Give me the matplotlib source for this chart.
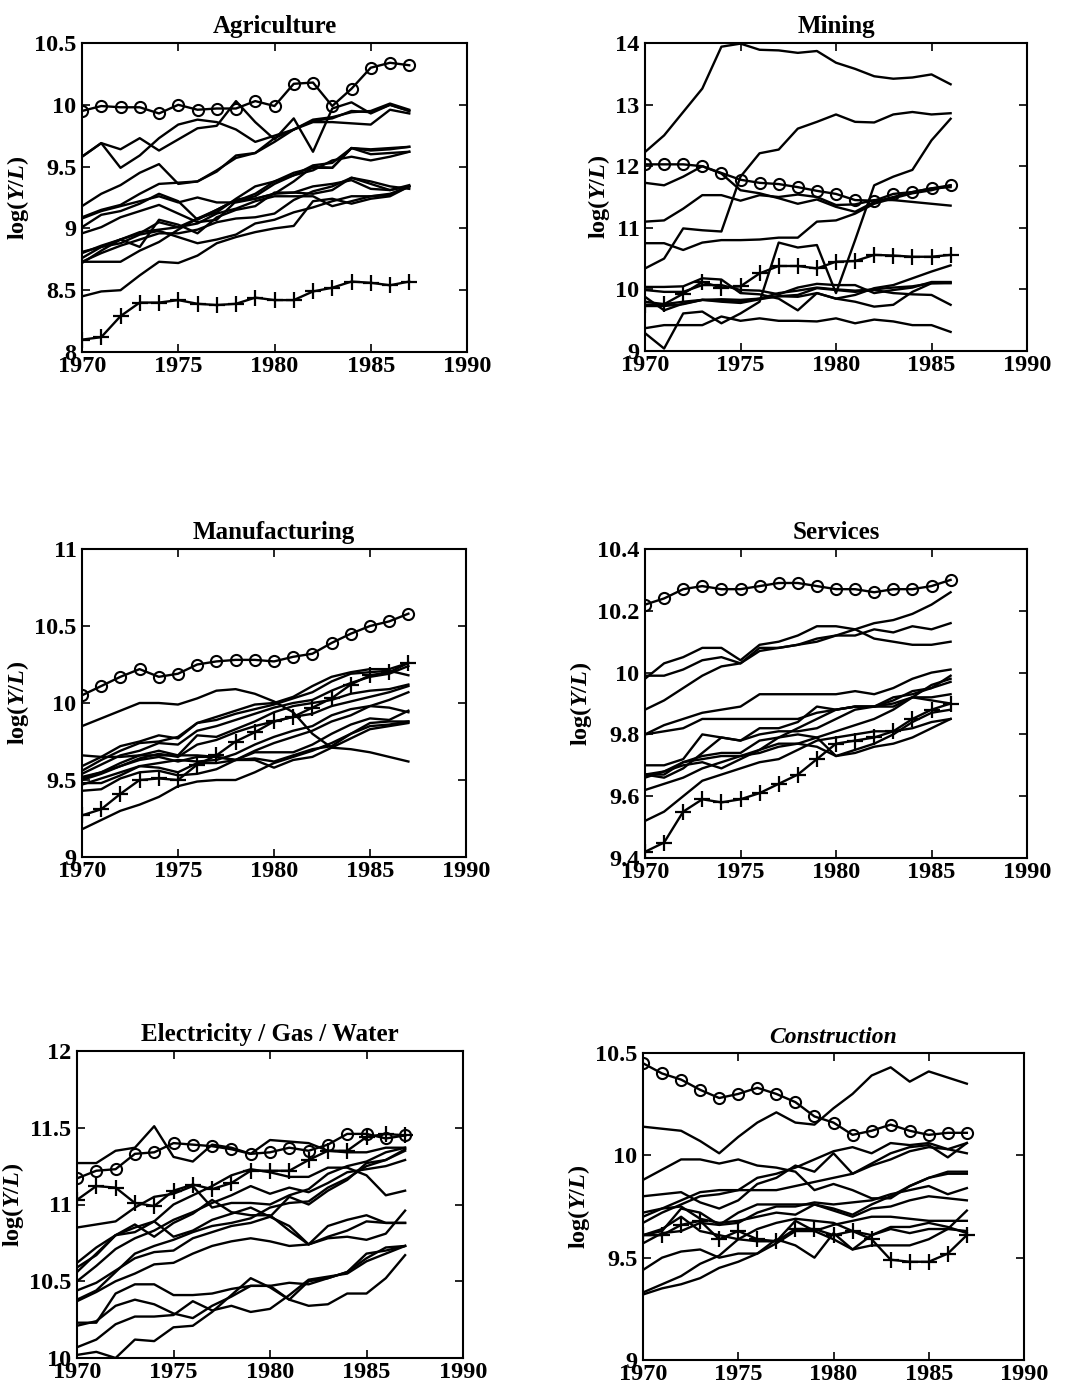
import matplotlib
matplotlib.use("Agg")
import matplotlib.pyplot as plt
from matplotlib.ticker import FormatStrFormatter, MultipleLocator

plt.rcParams['font.family'] = ['Liberation Serif', 'DejaVu Serif']
plt.rcParams['mathtext.fontset'] = 'custom'
plt.rcParams['mathtext.rm'] = 'Liberation Serif:bold'
plt.rcParams['mathtext.it'] = 'Liberation Serif:italic:bold'

# ---------------- data ----------------
years_87 = list(range(1970, 1988))
years_86 = list(range(1970, 1987))

# Agriculture
agri_o = [9.95, 9.99, 9.98, 9.98, 9.93, 10.0, 9.96, 9.97, 9.97, 10.03, 9.99, 10.17, 10.18, 9.99, 10.13, 10.30, 10.34, 10.32]
agri_plus = [8.10, 8.12, 8.29, 8.40, 8.40, 8.42, 8.39, 8.38, 8.39, 8.44, 8.42, 8.42, 8.49, 8.52, 8.57, 8.56, 8.54, 8.57]
agri_lines = [
    [9.58, 9.69, 9.49, 9.59, 9.73, 9.84, 9.88, 9.86, 9.80, 9.70, 9.75, 9.80, 9.86, 9.86, 9.85, 9.84, 9.96, 9.93],
    [9.58, 9.69, 9.64, 9.73, 9.63, 9.72, 9.81, 9.83, 10.03, 9.86, 9.72, 9.89, 9.62, 9.97, 10.02, 9.93, 10.00, 9.95],
    [9.18, 9.28, 9.35, 9.45, 9.52, 9.36, 9.38, 9.46, 9.59, 9.61, 9.70, 9.80, 9.87, 9.89, 9.95, 9.94, 10.00, 9.95],
    [9.09, 9.15, 9.19, 9.28, 9.36, 9.37, 9.38, 9.47, 9.57, 9.61, 9.73, 9.80, 9.88, 9.90, 9.94, 9.95, 10.01, 9.96],
    [9.08, 9.14, 9.18, 9.22, 9.26, 9.21, 9.25, 9.21, 9.21, 9.24, 9.28, 9.38, 9.50, 9.49, 9.65, 9.63, 9.64, 9.66],
    [9.01, 9.11, 9.14, 9.20, 9.28, 9.22, 9.07, 9.15, 9.23, 9.26, 9.36, 9.43, 9.51, 9.53, 9.65, 9.64, 9.65, 9.66],
    [8.96, 9.01, 9.09, 9.14, 9.19, 9.12, 9.05, 9.07, 9.22, 9.28, 9.38, 9.43, 9.47, 9.55, 9.58, 9.55, 9.58, 9.62],
    [8.80, 8.86, 8.91, 8.97, 8.99, 9.01, 9.08, 9.13, 9.24, 9.34, 9.38, 9.45, 9.49, 9.49, 9.65, 9.60, 9.61, 9.62],
    [8.76, 8.85, 8.91, 8.85, 9.07, 9.03, 8.96, 9.09, 9.15, 9.18, 9.29, 9.29, 9.28, 9.31, 9.41, 9.36, 9.31, 9.34],
    [8.72, 8.82, 8.91, 8.96, 9.05, 9.01, 9.04, 9.12, 9.16, 9.22, 9.26, 9.26, 9.26, 9.18, 9.22, 9.26, 9.28, 9.34],
    [8.73, 8.80, 8.86, 8.91, 8.96, 8.96, 8.99, 9.05, 9.08, 9.09, 9.12, 9.23, 9.30, 9.34, 9.41, 9.38, 9.34, 9.32],
    [8.81, 8.85, 8.88, 8.95, 8.98, 8.93, 8.88, 8.91, 8.95, 9.04, 9.07, 9.13, 9.17, 9.22, 9.26, 9.26, 9.27, 9.34],
    [8.73, 8.73, 8.73, 8.82, 8.89, 8.99, 9.08, 9.15, 9.23, 9.24, 9.28, 9.29, 9.34, 9.36, 9.39, 9.32, 9.31, 9.35],
    [8.45, 8.49, 8.50, 8.62, 8.73, 8.72, 8.78, 8.88, 8.93, 8.97, 9.00, 9.02, 9.22, 9.24, 9.20, 9.24, 9.26, 9.34],
]

# Mining
mining_o = [12.03, 12.03, 12.03, 12.00, 11.89, 11.78, 11.73, 11.71, 11.66, 11.60, 11.55, 11.45, 11.44, 11.55, 11.58, 11.64, 11.69]
mining_plus = [9.75, 9.76, 9.93, 10.12, 10.03, 10.05, 10.26, 10.38, 10.38, 10.34, 10.45, 10.46, 10.56, 10.55, 10.53, 10.53, 10.56]
mining_lines = [
    [12.23, 12.50, 12.88, 13.26, 13.94, 13.99, 13.89, 13.88, 13.84, 13.87, 13.68, 13.58, 13.46, 13.42, 13.44, 13.49, 13.33],
    [10.34, 10.50, 10.99, 10.96, 10.94, 11.83, 12.21, 12.27, 12.61, 12.72, 12.84, 12.72, 12.71, 12.84, 12.88, 12.84, 12.86],
    [9.29, 9.04, 9.61, 9.64, 9.45, 9.61, 9.80, 10.76, 10.68, 10.72, 9.94, 10.80, 11.69, 11.83, 11.94, 12.42, 12.77],
    [9.37, 9.42, 9.42, 9.42, 9.56, 9.49, 9.53, 9.49, 9.49, 9.48, 9.53, 9.45, 9.51, 9.48, 9.42, 9.42, 9.31],
    [11.73, 11.69, 11.83, 12.00, 11.88, 11.61, 11.56, 11.48, 11.39, 11.46, 11.34, 11.26, 11.42, 11.50, 11.58, 11.64, 11.66],
    [11.10, 11.12, 11.31, 11.53, 11.53, 11.44, 11.53, 11.50, 11.54, 11.50, 11.37, 11.38, 11.45, 11.45, 11.42, 11.39, 11.36],
    [10.75, 10.75, 10.64, 10.76, 10.80, 10.80, 10.81, 10.84, 10.84, 11.10, 11.12, 11.23, 11.39, 11.48, 11.56, 11.61, 11.69],
    [10.04, 10.04, 10.05, 10.18, 10.16, 9.94, 9.92, 9.85, 9.66, 9.94, 9.85, 9.91, 10.02, 10.07, 10.18, 10.29, 10.39],
    [9.99, 9.96, 9.96, 10.07, 10.07, 9.99, 9.98, 9.92, 10.03, 10.09, 10.07, 10.07, 9.94, 9.99, 10.03, 10.12, 10.12],
    [9.88, 9.66, 9.77, 9.83, 9.82, 9.80, 9.85, 9.89, 9.91, 10.02, 9.99, 9.96, 9.99, 9.94, 9.92, 9.91, 9.75],
    [9.80, 9.76, 9.80, 9.83, 9.80, 9.78, 9.84, 9.89, 9.88, 9.94, 9.85, 9.80, 9.72, 9.75, 9.96, 10.10, 10.10],
    [9.73, 9.73, 9.76, 9.83, 9.84, 9.83, 9.85, 9.94, 9.98, 10.03, 10.00, 9.98, 10.00, 10.03, 10.05, 10.10, 10.11],
]

# Manufacturing
manu_o = [10.05, 10.11, 10.17, 10.22, 10.17, 10.19, 10.25, 10.27, 10.28, 10.28, 10.27, 10.30, 10.32, 10.39, 10.45, 10.50, 10.53, 10.58]
manu_plus = [9.27, 9.31, 9.41, 9.50, 9.51, 9.50, 9.60, 9.66, 9.75, 9.81, 9.88, 9.91, 9.97, 10.03, 10.12, 10.18, 10.20, 10.26]
manu_lines = [
    [9.85, 9.90, 9.95, 10.00, 10.00, 9.99, 10.03, 10.08, 10.09, 10.06, 10.01, 9.94, 9.80, 9.71, 9.70, 9.68, 9.65, 9.62],
    [9.18, 9.24, 9.30, 9.34, 9.39, 9.46, 9.49, 9.50, 9.50, 9.55, 9.61, 9.65, 9.69, 9.74, 9.80, 9.87, 9.88, 9.88],
    [9.66, 9.65, 9.65, 9.66, 9.66, 9.66, 9.66, 9.65, 9.63, 9.63, 9.58, 9.63, 9.65, 9.71, 9.77, 9.83, 9.85, 9.87],
    [9.48, 9.48, 9.53, 9.59, 9.58, 9.55, 9.61, 9.61, 9.63, 9.69, 9.74, 9.78, 9.82, 9.88, 9.92, 9.98, 10.02, 10.07],
    [9.43, 9.44, 9.51, 9.55, 9.56, 9.53, 9.54, 9.57, 9.63, 9.68, 9.68, 9.68, 9.73, 9.80, 9.86, 9.90, 9.89, 9.95],
    [9.52, 9.55, 9.59, 9.63, 9.65, 9.62, 9.65, 9.65, 9.63, 9.64, 9.62, 9.66, 9.70, 9.72, 9.80, 9.85, 9.86, 9.88],
    [9.59, 9.65, 9.72, 9.75, 9.79, 9.77, 9.87, 9.91, 9.95, 9.99, 10.00, 10.04, 10.11, 10.17, 10.20, 10.22, 10.22, 10.26],
    [9.56, 9.63, 9.69, 9.74, 9.75, 9.78, 9.87, 9.89, 9.93, 9.96, 9.99, 10.03, 10.07, 10.14, 10.19, 10.20, 10.21, 10.18],
    [9.54, 9.60, 9.66, 9.69, 9.74, 9.73, 9.82, 9.85, 9.89, 9.93, 9.97, 10.00, 10.02, 10.08, 10.13, 10.17, 10.19, 10.24],
    [9.51, 9.55, 9.61, 9.66, 9.69, 9.66, 9.79, 9.78, 9.83, 9.88, 9.94, 9.98, 10.00, 10.02, 10.06, 10.08, 10.09, 10.12],
    [9.50, 9.54, 9.59, 9.64, 9.67, 9.65, 9.73, 9.76, 9.81, 9.85, 9.88, 9.91, 9.93, 9.98, 10.01, 10.04, 10.07, 10.11],
    [9.47, 9.51, 9.55, 9.59, 9.61, 9.63, 9.62, 9.63, 9.67, 9.73, 9.78, 9.82, 9.85, 9.92, 9.96, 9.98, 9.97, 9.94],
]

# Services
serv_o = [10.22, 10.24, 10.27, 10.28, 10.27, 10.27, 10.28, 10.29, 10.29, 10.28, 10.27, 10.27, 10.26, 10.27, 10.27, 10.28, 10.30]
serv_plus = [9.42, 9.45, 9.55, 9.59, 9.58, 9.59, 9.61, 9.64, 9.67, 9.72, 9.77, 9.78, 9.79, 9.81, 9.85, 9.88, 9.90]
serv_lines = [
    [9.98, 10.03, 10.05, 10.08, 10.08, 10.04, 10.09, 10.10, 10.12, 10.15, 10.15, 10.14, 10.11, 10.10, 10.09, 10.09, 10.10],
    [9.99, 9.99, 10.01, 10.04, 10.05, 10.03, 10.08, 10.08, 10.09, 10.11, 10.12, 10.12, 10.14, 10.13, 10.15, 10.14, 10.16],
    [9.88, 9.91, 9.95, 9.99, 10.02, 10.03, 10.07, 10.08, 10.09, 10.10, 10.12, 10.14, 10.16, 10.17, 10.19, 10.22, 10.26],
    [9.80, 9.83, 9.85, 9.87, 9.88, 9.89, 9.93, 9.93, 9.93, 9.93, 9.93, 9.94, 9.93, 9.95, 9.98, 10.00, 10.01],
    [9.80, 9.81, 9.82, 9.85, 9.85, 9.85, 9.85, 9.85, 9.85, 9.87, 9.88, 9.89, 9.89, 9.90, 9.92, 9.92, 9.93],
    [9.70, 9.70, 9.72, 9.80, 9.79, 9.78, 9.82, 9.82, 9.84, 9.89, 9.88, 9.89, 9.89, 9.89, 9.92, 9.91, 9.90],
    [9.67, 9.66, 9.69, 9.74, 9.79, 9.78, 9.80, 9.81, 9.81, 9.82, 9.85, 9.88, 9.89, 9.91, 9.94, 9.95, 9.99],
    [9.67, 9.67, 9.71, 9.72, 9.73, 9.73, 9.75, 9.77, 9.77, 9.76, 9.73, 9.75, 9.77, 9.80, 9.84, 9.87, 9.88],
    [9.67, 9.68, 9.70, 9.71, 9.69, 9.72, 9.75, 9.79, 9.82, 9.85, 9.88, 9.89, 9.89, 9.92, 9.93, 9.95, 9.97],
    [9.62, 9.64, 9.66, 9.69, 9.71, 9.73, 9.74, 9.76, 9.77, 9.79, 9.81, 9.83, 9.85, 9.88, 9.92, 9.96, 9.98],
    [9.52, 9.55, 9.60, 9.65, 9.67, 9.69, 9.71, 9.72, 9.75, 9.78, 9.79, 9.80, 9.81, 9.81, 9.82, 9.84, 9.85],
    [9.66, 9.68, 9.71, 9.73, 9.74, 9.74, 9.78, 9.79, 9.80, 9.79, 9.73, 9.74, 9.76, 9.77, 9.79, 9.82, 9.85],
]

# Electricity / Gas / Water
elec_o = [11.17, 11.22, 11.23, 11.33, 11.34, 11.40, 11.39, 11.38, 11.36, 11.33, 11.34, 11.37, 11.35, 11.39, 11.46, 11.46, 11.43, 11.45]
elec_plus = [11.03, 11.12, 11.11, 11.01, 10.99, 11.09, 11.13, 11.10, 11.14, 11.22, 11.22, 11.22, 11.29, 11.35, 11.35, 11.44, 11.46, 11.45]
elec_lines = [
    [11.27, 11.27, 11.35, 11.37, 11.51, 11.31, 11.28, 11.39, 11.37, 11.33, 11.42, 11.41, 11.40, 11.35, 11.34, 11.34, 11.37, 11.37],
    [10.85, 10.87, 10.89, 10.98, 11.05, 11.07, 11.12, 10.98, 11.01, 11.01, 11.00, 11.06, 11.10, 11.20, 11.25, 11.28, 11.34, 11.37],
    [10.62, 10.72, 10.80, 10.85, 10.89, 11.00, 11.06, 11.12, 11.19, 11.23, 11.21, 11.18, 11.18, 11.24, 11.24, 11.19, 11.06, 11.09],
    [10.59, 10.67, 10.80, 10.82, 10.89, 10.79, 10.83, 10.90, 10.94, 10.98, 10.92, 11.05, 11.00, 11.09, 11.16, 11.27, 11.29, 11.35],
    [10.56, 10.68, 10.80, 10.87, 10.79, 10.88, 10.94, 11.03, 10.95, 10.93, 10.93, 10.83, 10.74, 10.79, 10.83, 10.89, 10.88, 10.88],
    [10.50, 10.60, 10.71, 10.78, 10.83, 10.90, 10.95, 11.01, 11.06, 11.12, 11.07, 11.11, 11.08, 11.14, 11.21, 11.23, 11.25, 11.29],
    [10.38, 10.44, 10.56, 10.68, 10.73, 10.77, 10.82, 10.86, 10.88, 10.91, 10.98, 11.01, 11.02, 11.11, 11.17, 11.25, 11.29, 11.36],
    [10.44, 10.49, 10.57, 10.65, 10.69, 10.70, 10.78, 10.82, 10.86, 10.88, 10.92, 10.86, 10.74, 10.86, 10.90, 10.93, 10.88, 10.88],
    [10.37, 10.43, 10.50, 10.55, 10.61, 10.62, 10.68, 10.73, 10.76, 10.78, 10.76, 10.73, 10.74, 10.78, 10.79, 10.77, 10.81, 10.96],
    [10.23, 10.23, 10.42, 10.48, 10.48, 10.41, 10.41, 10.42, 10.45, 10.47, 10.47, 10.49, 10.48, 10.52, 10.56, 10.65, 10.72, 10.73],
    [10.21, 10.24, 10.34, 10.38, 10.35, 10.29, 10.26, 10.34, 10.40, 10.47, 10.47, 10.38, 10.34, 10.35, 10.42, 10.42, 10.52, 10.67],
    [10.07, 10.12, 10.22, 10.27, 10.27, 10.28, 10.37, 10.31, 10.34, 10.30, 10.32, 10.41, 10.51, 10.53, 10.55, 10.63, 10.68, 10.73],
    [10.02, 10.04, 10.00, 10.12, 10.11, 10.20, 10.21, 10.30, 10.41, 10.52, 10.46, 10.38, 10.50, 10.52, 10.56, 10.68, 10.70, 10.73],
]

# Construction
cons_o = [10.45, 10.40, 10.37, 10.32, 10.28, 10.30, 10.33, 10.30, 10.26, 10.19, 10.16, 10.10, 10.12, 10.15, 10.12, 10.10, 10.11, 10.11]
cons_plus = [9.61, 9.61, 9.66, 9.68, 9.59, 9.63, 9.59, 9.58, 9.64, 9.64, 9.61, 9.63, 9.59, 9.49, 9.48, 9.48, 9.52, 9.61]
cons_lines = [
    [10.14, 10.13, 10.12, 10.07, 10.01, 10.09, 10.16, 10.21, 10.16, 10.15, 10.23, 10.30, 10.39, 10.43, 10.36, 10.41, 10.38, 10.35],
    [9.88, 9.93, 9.98, 9.98, 9.96, 9.98, 9.95, 9.94, 9.92, 9.83, 9.86, 9.83, 9.79, 9.79, 9.85, 9.89, 9.91, 9.91],
    [9.80, 9.81, 9.82, 9.77, 9.74, 9.78, 9.86, 9.89, 9.95, 9.92, 10.01, 9.91, 9.96, 10.01, 10.04, 10.05, 9.99, 10.06],
    [9.72, 9.74, 9.75, 9.69, 9.67, 9.68, 9.70, 9.72, 9.71, 9.76, 9.73, 9.70, 9.74, 9.75, 9.78, 9.80, 9.79, 9.78],
    [9.70, 9.74, 9.78, 9.82, 9.83, 9.83, 9.89, 9.91, 9.94, 9.98, 10.02, 10.04, 10.01, 10.06, 10.05, 10.06, 10.03, 10.01],
    [9.67, 9.72, 9.76, 9.80, 9.81, 9.83, 9.83, 9.83, 9.85, 9.87, 9.89, 9.91, 9.95, 9.98, 10.02, 10.04, 10.03, 10.06],
    [9.61, 9.63, 9.74, 9.72, 9.66, 9.72, 9.76, 9.76, 9.76, 9.76, 9.74, 9.71, 9.76, 9.80, 9.85, 9.89, 9.92, 9.92],
    [9.57, 9.62, 9.63, 9.67, 9.66, 9.67, 9.72, 9.75, 9.75, 9.77, 9.76, 9.77, 9.78, 9.81, 9.83, 9.85, 9.81, 9.84],
    [9.44, 9.50, 9.53, 9.54, 9.50, 9.52, 9.52, 9.59, 9.56, 9.50, 9.62, 9.54, 9.56, 9.56, 9.56, 9.59, 9.64, 9.73],
    [9.33, 9.37, 9.41, 9.47, 9.51, 9.59, 9.64, 9.67, 9.69, 9.68, 9.67, 9.63, 9.61, 9.64, 9.62, 9.64, 9.64, 9.63],
    [9.32, 9.35, 9.37, 9.40, 9.45, 9.48, 9.52, 9.57, 9.63, 9.63, 9.66, 9.68, 9.70, 9.70, 9.69, 9.68, 9.68, 9.68],
    [9.61, 9.64, 9.70, 9.63, 9.61, 9.59, 9.58, 9.58, 9.68, 9.63, 9.59, 9.54, 9.61, 9.65, 9.65, 9.67, 9.65, 9.62],
]

titles = ["Agriculture", "Mining", "Manufacturing", "Services",
          "Electricity / Gas / Water", "Construction"]
y_limits = [(8, 10.5), (9, 14), (9, 11), (9.4, 10.4), (10, 12), (9, 10.5)]
y_steps = [0.5, 1, 0.5, 0.2, 0.5, 0.5]
x_ticks = [1970, 1975, 1980, 1985, 1990]

panels = [
    (years_87, agri_lines, agri_o, agri_plus),
    (years_86, mining_lines, mining_o, mining_plus),
    (years_87, manu_lines, manu_o, manu_plus),
    (years_86, serv_lines, serv_o, serv_plus),
    (years_87, elec_lines, elec_o, elec_plus),
    (years_87, cons_lines, cons_o, cons_plus),
]

# ---------------- layout (figure pixels: left, right, top, bottom) ----------------
W, H = 1087, 1394
boxes = [(82, 467, 43, 352), (645, 1027, 43, 351),
         (82, 466, 549, 857), (645, 1027, 549, 858),
         (77, 463, 1051, 1358), (643, 1024, 1053, 1360)]

fig = plt.figure(figsize=(W / 100, H / 100), dpi=100)

for i, (yrs, lines, o_ser, p_ser) in enumerate(panels):
    l, r, t, b = boxes[i]
    ax = fig.add_axes([l / W, 1 - b / H, (r - l) / W, (b - t) / H])
    for ln in lines:
        ax.plot(yrs, ln, color='black', lw=1.7)
    ax.plot(yrs, o_ser, color='black', lw=1.7, marker='o', ms=8,
            mfc='none', mec='black', mew=1.5)
    ax.plot(yrs, p_ser, color='black', lw=1.7, marker='+', ms=11, mew=1.6)
    ax.set_xlim(1970, 1990)
    ax.set_ylim(*y_limits[i])
    ax.set_xticks(x_ticks)
    ax.yaxis.set_major_locator(MultipleLocator(y_steps[i]))
    ax.yaxis.set_major_formatter(FormatStrFormatter('%g'))
    ax.tick_params(direction='in', top=True, right=True, length=6, width=1.2,
                   labelsize=17.5)
    ax.tick_params(axis='x', pad=3)
    ax.tick_params(axis='y', pad=4)
    for lab in ax.get_xticklabels() + ax.get_yticklabels():
        lab.set_fontweight('bold')
    for s in ax.spines.values():
        s.set_linewidth(1.5)
    ax.set_ylabel(r'log($\mathit{Y/L}$)', fontsize=17.5, fontweight='bold', labelpad=2)
    if i == 5:
        ax.set_title(titles[i], fontsize=17, style='italic', fontweight='bold', pad=7)
    else:
        ax.set_title(titles[i], fontsize=18, fontweight='bold', pad=7)

fig.savefig('out.png', dpi=100)
